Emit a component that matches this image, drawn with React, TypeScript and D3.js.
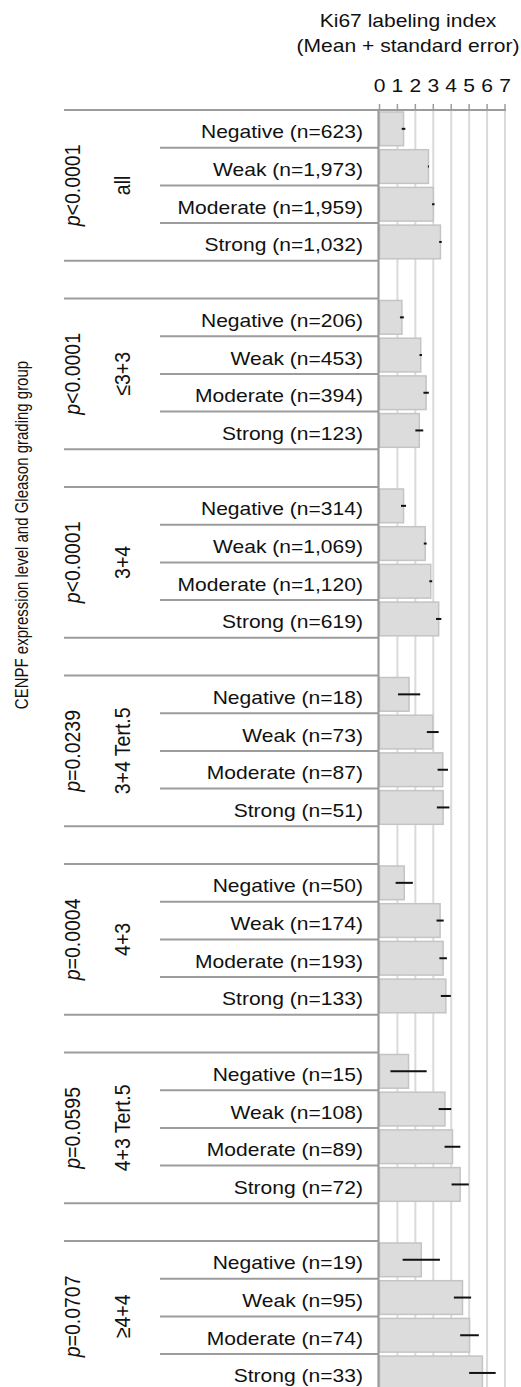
import React from "react";
import * as d3 from "d3";

// Gleason grading groups, top to bottom
const groups = ["all", "≤3+3", "3+4", "3+4 Tert.5", "4+3", "4+3 Tert.5", "≥4+4"];
// p-value comparison text per group (the leading "p" is italic)
const pSigns = ["<0.0001", "<0.0001", "<0.0001", "=0.0239", "=0.0004", "=0.0595", "=0.0707"];
// CENPF expression levels
const levels = ["Negative", "Weak", "Moderate", "Strong"];
// Number of cases per group and level
const counts = [
  ["623", "1,973", "1,959", "1,032"],
  ["206", "453", "394", "123"],
  ["314", "1,069", "1,120", "619"],
  ["18", "73", "87", "51"],
  ["50", "174", "193", "133"],
  ["15", "108", "89", "72"],
  ["19", "95", "74", "33"],
];
// Ki67 labeling index, mean per group and level
const means = [
  [1.34, 2.73, 3.0, 3.4],
  [1.25, 2.3, 2.6, 2.22],
  [1.34, 2.55, 2.86, 3.3],
  [1.65, 2.97, 3.53, 3.55],
  [1.38, 3.38, 3.55, 3.7],
  [1.62, 3.65, 4.07, 4.5],
  [2.33, 4.63, 5.02, 5.74],
];
// Standard error of the mean
const stdErrors = [
  [0.1, 0.03, 0.07, 0.07],
  [0.11, 0.07, 0.15, 0.22],
  [0.14, 0.08, 0.08, 0.15],
  [0.62, 0.33, 0.29, 0.35],
  [0.48, 0.2, 0.21, 0.28],
  [1.01, 0.35, 0.44, 0.48],
  [1.04, 0.48, 0.52, 0.74],
];
const axisTicks = [0, 1, 2, 3, 4, 5, 6, 7];

const W = 521;
const H = 1387;
const FONT = "'Liberation Sans', Arial, Helvetica, sans-serif";
const SX = 1.17; // horizontal text stretch
const ROW = 37.7;
const TOP = 110;
const SLOTS_PER_GROUP = levels.length + 1; // one blank slot between groups

const LINE = "#9c9c9c";
const GRID = "#dadada";
const BAR_FILL = "#dcdcdc";
const BAR_STROKE = "#c4c4c4";

function HText({ x, y, anchor = "start", size = 18, children, style }: any) {
  return (
    <text
      transform={`translate(${x},${y}) scale(${SX},1)`}
      textAnchor={anchor}
      fontSize={size}
      fontFamily={FONT}
      fill="#111"
      style={style}
    >
      {children}
    </text>
  );
}

function VText({ x, y, size = 19.5, children }: any) {
  return (
    <text
      transform={`translate(${x},${y}) scale(${SX},1) rotate(-90)`}
      textAnchor="middle"
      fontSize={size}
      fontFamily={FONT}
      fill="#111"
    >
      {children}
    </text>
  );
}

export default function App() {
  const nSlots = groups.length * SLOTS_PER_GROUP;
  const y = d3
    .scaleBand<number>()
    .domain(d3.range(nSlots))
    .range([TOP, TOP + nSlots * ROW])
    .padding(0);
  const x = d3.scaleLinear().domain([0, 7]).range([379.5, 505]);
  const axisX = 378.5;
  const bottom = TOP + nSlots * ROW;

  const slot = (g: number, i: number) => g * SLOTS_PER_GROUP + i;

  return (
    <svg
      width={W}
      height={H}
      viewBox={`0 0 ${W} ${H}`}
      style={{ position: "absolute", left: 0, top: 0, background: "#fff" }}
    >
      <rect width={W} height={H} fill="#fff" />

      {/* title */}
      <HText x={408} y={26.5} anchor="middle">Ki67 labeling index</HText>
      <HText x={408} y={51.5} anchor="middle">(Mean + standard error)</HText>

      {/* vertical gridlines */}
      {axisTicks.slice(1).map((t) => (
        <line key={`g${t}`} x1={x(t)} x2={x(t)} y1={TOP} y2={bottom} stroke={GRID} strokeWidth={2} />
      ))}

      {/* top axis: ticks and labels */}
      {axisTicks.map((t) => (
        <g key={`t${t}`}>
          <line x1={x(t)} x2={x(t)} y1={TOP - 6} y2={TOP} stroke={LINE} strokeWidth={1.5} />
          <HText x={x(t)} y={91.5} anchor="middle">{t}</HText>
        </g>
      ))}
      <line x1={64} x2={x(7) + 1} y1={TOP} y2={TOP} stroke={LINE} strokeWidth={2} />

      {/* bars */}
      {groups.map((gName, g) =>
        levels.map((lv, i) => {
          const yy = y(slot(g, i))!;
          return (
            <rect
              key={`b${g}-${i}`}
              x={x(0)}
              y={yy + 2}
              width={x(means[g][i]) - x(0)}
              height={y.bandwidth() - 4}
              fill={BAR_FILL}
              stroke={BAR_STROKE}
              strokeWidth={1.5}
            />
          );
        })
      )}

      {/* standard error bars */}
      {groups.map((gName, g) =>
        levels.map((lv, i) => {
          const cy = y(slot(g, i))! + y.bandwidth() / 2;
          const m = means[g][i];
          const se = stdErrors[g][i];
          return (
            <line
              key={`e${g}-${i}`}
              x1={x(m - se)}
              x2={x(m + se)}
              y1={cy}
              y2={cy}
              stroke="#111"
              strokeWidth={2}
            />
          );
        })
      )}

      {/* row and group separators */}
      {groups.map((gName, g) => {
        const gTop = y(slot(g, 0))!;
        const gBottom = gTop + levels.length * ROW;
        return (
          <g key={`s${g}`}>
            {g > 0 && <line x1={64} x2={axisX} y1={gTop} y2={gTop} stroke={LINE} strokeWidth={2} />}
            <line x1={64} x2={axisX} y1={gBottom} y2={gBottom} stroke={LINE} strokeWidth={2} />
            {d3.range(1, levels.length).map((i) => {
              const yy = y(slot(g, i))!;
              return <line key={i} x1={160} x2={axisX} y1={yy} y2={yy} stroke={LINE} strokeWidth={2} />;
            })}
          </g>
        );
      })}

      {/* zero axis */}
      <line x1={axisX} x2={axisX} y1={TOP - 1} y2={bottom} stroke={LINE} strokeWidth={2.2} />

      {/* category labels */}
      {groups.map((gName, g) =>
        levels.map((lv, i) => {
          const cy = y(slot(g, i))! + y.bandwidth() / 2;
          return (
            <HText key={`l${g}-${i}`} x={363} y={cy + 9.5} anchor="end">
              {`${lv} (n=${counts[g][i]})`}
            </HText>
          );
        })
      )}

      {/* group labels and p-values */}
      {groups.map((gName, g) => {
        const cy = y(slot(g, 0))! + (levels.length * ROW) / 2;
        return (
          <g key={`gl${g}`}>
            <VText x={80} y={cy}>
              <tspan fontStyle="italic">p</tspan>
              {pSigns[g]}
            </VText>
            <VText x={130} y={cy}>{gName}</VText>
          </g>
        );
      })}

      {/* y-axis title */}
      <VText x={28} y={535} size={15}>CENPF expression level and Gleason grading group</VText>
    </svg>
  );
}
